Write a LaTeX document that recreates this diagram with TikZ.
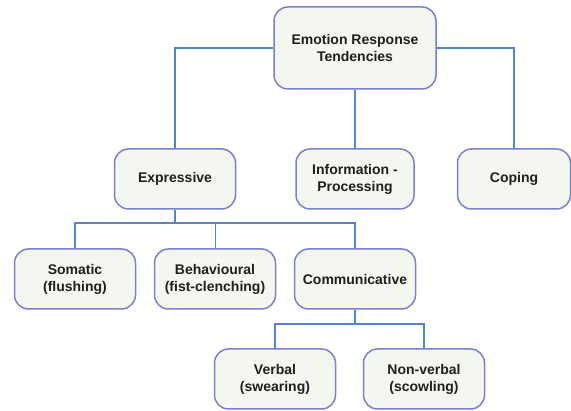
\documentclass[tikz,border=0pt]{standalone}
\usepackage{fontspec}
\setmainfont{Liberation Sans}
\definecolor{boxborder}{HTML}{7A80CF}
\definecolor{boxfill}{HTML}{F4F6F0}
\definecolor{linkcol}{HTML}{5584CC}
\begin{document}
\begin{tikzpicture}[x=1pt,y=-1pt,
  box/.style={draw=boxborder, fill=boxfill, line width=1.5pt, rounded corners=14pt,
    minimum width=121pt, minimum height=60pt, align=center, inner sep=2pt,
    font=\fontsize{14}{17}\selectfont\bfseries, text=black!88},
  link/.style={draw=linkcol, line width=1.4pt}]
\useasboundingbox (0,0) rectangle (571,411);
\node[box, minimum width=162pt, minimum height=82pt] (root) at (355,48) {Emotion Response\\Tendencies};
\node[box] (expr) at (175,179) {Expressive};
\node[box, minimum width=118pt] (info) at (355,179) {Information -\\Processing};
\node[box, minimum width=113pt] (cop) at (514,179) {Coping};
\node[box] (som) at (75,279) {Somatic\\(flushing)};
\node[box] (beh) at (215,279) {Behavioural\\(fist-clenching)};
\node[box] (com) at (355,279) {Communicative};
\node[box] (verb) at (275,379) {Verbal\\(swearing)};
\node[box] (nonv) at (424,379) {Non-verbal\\(scowling)};
\path[link] (root.west) -| (expr.north);
\path[link] (root.east) -| (cop.north);
\path[link] (root.south) -- (info.north);
\coordinate (ej) at (175,223);
\path[link] (expr.south) -- (ej);
\path[link] (som.north) |- (ej) -| (com.north);
\path[link, line width=0.9pt] (beh.north) -- (beh.north |- ej);
\coordinate (cj) at (355,324);
\path[link] (com.south) -- (cj);
\path[link] (verb.north) |- (cj) -| (nonv.north);
\end{tikzpicture}
\end{document}
